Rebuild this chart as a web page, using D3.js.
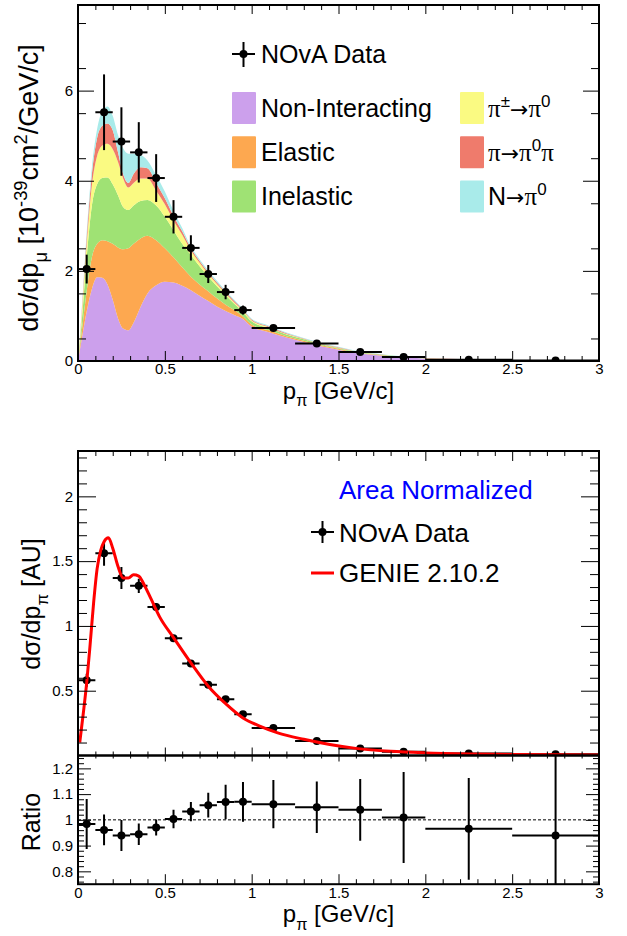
<!DOCTYPE html>
<html>
<head>
    <title>NOvA pi0 momentum</title>
    <script src="https://cdnjs.cloudflare.com/ajax/libs/d3/7.8.5/d3.min.js"></script>
    <style>
        body {
            margin: 0;
            padding: 0;
            background: white;
        }
        text {
            font-family: "Liberation Sans", Arial, Helvetica, sans-serif;
        }
    </style>
</head>
<body>
    <div id="chart"></div>

    <script>
        // Data bins (p_pi, GeV/c)
        const binLo = [0, 0.1, 0.2, 0.3, 0.4, 0.5, 0.6, 0.7, 0.8, 0.9, 1.0, 1.25, 1.5, 1.75, 2.0, 2.5];
        const binHi = [0.1, 0.2, 0.3, 0.4, 0.5, 0.6, 0.7, 0.8, 0.9, 1.0, 1.25, 1.5, 1.75, 2.0, 2.5, 3.0];

        // top panel: absolute cross section
        const xsecData = [2.04, 5.52, 4.87, 4.63, 4.06, 3.2, 2.51, 1.93, 1.53, 1.13, 0.73, 0.39, 0.2, 0.09, 0.03, 0.01];
        const xsecErr = [0.32, 0.84, 0.76, 0.67, 0.53, 0.37, 0.28, 0.2, 0.16, 0.1, 0.05, 0.03, 0.02, 0.01, 0.005, 0.003];

        // middle panel: area normalized
        const shapeData = [0.58, 1.56, 1.37, 1.31, 1.146, 0.905, 0.71, 0.546, 0.435, 0.318, 0.212, 0.112, 0.054, 0.028, 0.015, 0.01];
        const shapeErr = [0.05, 0.095, 0.085, 0.055, 0.03, 0.02, 0.015, 0.012, 0.01, 0.008, 0.006, 0.004, 0.003, 0.002, 0.002, 0.001];

        // bottom panel: data / GENIE
        const ratioData = [0.984, 0.961, 0.939, 0.944, 0.970, 1.003, 1.032, 1.057, 1.069, 1.07, 1.061, 1.049, 1.039, 1.009, 0.965, 0.939];
        const ratioErr = [0.097, 0.06, 0.06, 0.042, 0.031, 0.036, 0.037, 0.048, 0.067, 0.077, 0.094, 0.1, 0.12, 0.177, 0.198, 0.4];

        // MC stack, by final state interaction category
        const mcX = [0, 0.02, 0.05, 0.08, 0.11, 0.14, 0.17, 0.2, 0.23, 0.26, 0.29, 0.32, 0.36, 0.4, 0.45, 0.5, 0.55, 0.6, 0.65, 0.7,
                     0.75, 0.8, 0.85, 0.9, 0.95, 1.0, 1.1, 1.2, 1.3, 1.4, 1.5, 1.6, 1.7, 1.8, 1.9, 2.0, 2.25, 2.5, 2.75, 3.0];
        const nonInteracting = [0, 0.45, 1.1, 1.6, 1.86, 1.85, 1.7, 1.36, 0.95, 0.72, 0.68, 0.85, 1.2, 1.5, 1.68, 1.76, 1.74, 1.67, 1.57, 1.45,
                                1.33, 1.21, 1.11, 1.02, 0.93, 0.76, 0.64, 0.52, 0.42, 0.33, 0.25, 0.18, 0.14, 0.10, 0.075, 0.05, 0.03, 0.015, 0.01, 0.005];
        const elastic = [0, 0.15, 0.45, 0.7, 0.74, 0.83, 0.96, 1.24, 1.57, 1.76, 1.82, 1.75, 1.52, 1.28, 1.0, 0.74, 0.56, 0.41, 0.30, 0.25,
                         0.22, 0.18, 0.14, 0.11, 0.06, 0.05, 0.04, 0.03, 0.03, 0.02, 0.02, 0.01, 0.01, 0.01, 0.005, 0.005, 0.002, 0.001, 0.001, 0];
        const inelastic = [0, 0.2, 0.75, 1.15, 1.32, 1.38, 1.41, 1.32, 1.16, 0.94, 0.85, 0.85, 0.83, 0.79, 0.77, 0.7, 0.6, 0.52, 0.48, 0.4,
                           0.32, 0.27, 0.21, 0.14, 0.10, 0.07, 0.05, 0.04, 0.03, 0.02, 0.02, 0.02, 0.01, 0.01, 0.005, 0.005, 0.002, 0.001, 0, 0.001];
        const chargeExch = [0, 0.15, 0.3, 0.45, 0.63, 0.72, 0.75, 0.78, 0.74, 0.63, 0.5, 0.5, 0.5, 0.48, 0.33, 0.28, 0.22, 0.2, 0.1, 0.08,
                            0.06, 0.05, 0.04, 0.03, 0.03, 0.02, 0.015, 0.01, 0.008, 0.006, 0.005, 0.004, 0.003, 0, 0.002, 0.002, 0.001, 0.001, 0.001, 0];
        const piProd = [0, 0.05, 0.15, 0.25, 0.4, 0.44, 0.45, 0.42, 0.22, 0.10, 0.10, 0.2, 0.25, 0.23, 0.17, 0.13, 0.10, 0.08, 0.05, 0.04,
                        0.04, 0.03, 0.03, 0.03, 0.02, 0.02, 0.02, 0.015, 0.01, 0.01, 0.01, 0.005, 0.005, 0.002, 0.002, 0.002, 0.001, 0, 0, 0];
        const nucleonProd = [0, 0.05, 0.1, 0.15, 0.2, 0.33, 0.38, 0.32, 0.38, 0.57, 0.65, 0.45, 0.27, 0.17, 0.17, 0.15, 0.11, 0.07, 0.04, 0.04,
                             0.04, 0.04, 0.03, 0.03, 0.02, 0.02, 0.02, 0.02, 0.015, 0.015, 0.01, 0.01, 0.008, 0.005, 0.003, 0.002, 0.001, 0, 0, 0];

        const categories = ['Non-Interacting', 'Elastic', 'Inelastic', 'π±→π0', 'π→π0π', 'N→π0'];
        const catColors = ['#cca0ec', '#fda850', '#9fe274', '#fafa82', '#ef7b6c', '#a9ebea'];

        // GENIE 2.10.2 shape prediction
        const genieX = [0.01, 0.03, 0.05, 0.07, 0.09, 0.11, 0.13, 0.15, 0.175, 0.2, 0.23, 0.26, 0.29, 0.32, 0.35, 0.38, 0.42, 0.47,
                        0.55, 0.65, 0.75, 0.85, 0.95, 1.05, 1.15, 1.3, 1.45, 1.6, 1.8, 2.0, 2.25, 2.5, 2.75, 3.0];
        const genieY = [0.10, 0.32, 0.56, 0.86, 1.18, 1.44, 1.58, 1.65, 1.68, 1.60, 1.46, 1.37, 1.37, 1.395, 1.385, 1.32, 1.21, 1.07,
                        0.91, 0.715, 0.535, 0.40, 0.29, 0.225, 0.175, 0.125, 0.085, 0.055, 0.032, 0.02, 0.012, 0.008, 0.005, 0.004];

        const W = 627, H = 936;
        const left = 78, plotW = 521;
        const FONT = '"Liberation Sans", Arial, Helvetica, sans-serif';
        const SERIF = '"Liberation Serif", "DejaVu Serif", serif';
        const ARROW = '"DejaVu Sans", sans-serif';

        const svg = d3.select('#chart').append('svg')
            .attr('width', W)
            .attr('height', H)
            .style('background', 'white');

        const x = d3.scaleLinear().domain([0, 3]).range([0, plotW]);
        const xMajor = d3.range(0, 3.001, 0.5);
        const xMinor = d3.range(0, 3.001, 0.1).filter(v => Math.abs(v * 2 - Math.round(v * 2)) > 1e-6);
        const fmt = d3.format('~g');

        // text with sub/superscripts, parts = [[text, 'sub'|'sup'|null, fontFamily?]]
        function richText(sel, parts, fs) {
            let off = 0;
            parts.forEach(([t, kind, family]) => {
                const want = kind === 'sub' ? 0.32 * fs : kind === 'sup' ? -0.4 * fs : 0;
                const ts = sel.append('tspan')
                    .text(t)
                    .attr('font-size', kind ? fs * 0.68 : fs)
                    .attr('dy', want - off);
                if (family === ARROW) ts.attr('font-family', ARROW).attr('font-size', fs * 0.88);
                else if (family) ts.attr('font-family', SERIF);
                off = want;
            });
        }

        function drawAxes(g, y, h, o) {
            // x ticks bottom
            g.append('g').attr('transform', `translate(0,${h})`)
                .call(d3.axisBottom(x).tickValues(xMajor).tickSize(-o.xb[0]).tickFormat(o.xLabels ? fmt : ''));
            g.append('g').attr('transform', `translate(0,${h})`)
                .call(d3.axisBottom(x).tickValues(xMinor).tickSize(-o.xb[1]).tickFormat(''));
            // x ticks top
            g.append('g')
                .call(d3.axisTop(x).tickValues(xMajor).tickSize(-o.xt[0]).tickFormat(''));
            g.append('g')
                .call(d3.axisTop(x).tickValues(xMinor).tickSize(-o.xt[1]).tickFormat(''));
            // y ticks left and right
            g.append('g')
                .call(d3.axisLeft(y).tickValues(o.yMajor).tickSize(-o.yl[0]).tickPadding(5)
                    .tickFormat(d => o.yLabels.includes(d) ? fmt(d) : ''));
            g.append('g')
                .call(d3.axisLeft(y).tickValues(o.yMinor).tickSize(-o.yl[1]).tickFormat(''));
            g.append('g').attr('transform', `translate(${plotW},0)`)
                .call(d3.axisRight(y).tickValues(o.yMajor).tickSize(-o.yr[0]).tickFormat(''));
            g.append('g').attr('transform', `translate(${plotW},0)`)
                .call(d3.axisRight(y).tickValues(o.yMinor).tickSize(-o.yr[1]).tickFormat(''));

            g.selectAll('.domain').remove();
            g.selectAll('.tick line').attr('stroke', '#000').attr('stroke-width', 1);
            g.selectAll('.tick text')
                .attr('font-family', FONT)
                .attr('font-size', 15)
                .attr('fill', '#000');
            // bottom tick labels sit just under the frame
            g.selectAll('.tick text').filter(function() { return this.getAttribute('dy') === '0.71em'; })
                .attr('y', o.xLabelY);
            g.append('rect')
                .attr('width', plotW)
                .attr('height', h)
                .attr('fill', 'none')
                .attr('stroke', '#000')
                .attr('stroke-width', 2);
        }

        function drawPoints(g, y, vals, errs, h) {
            const pts = g.append('g').attr('clip-path', `url(#clip-${h})`);
            vals.forEach((v, i) => {
                const cx = x((binLo[i] + binHi[i]) / 2);
                pts.append('line')
                    .attr('x1', x(binLo[i])).attr('x2', x(binHi[i]))
                    .attr('y1', y(v)).attr('y2', y(v))
                    .attr('stroke', '#000').attr('stroke-width', 2);
                pts.append('line')
                    .attr('x1', cx).attr('x2', cx)
                    .attr('y1', y(v - errs[i])).attr('y2', y(v + errs[i]))
                    .attr('stroke', '#000').attr('stroke-width', 2);
                pts.append('circle')
                    .attr('cx', cx).attr('cy', y(v)).attr('r', 4)
                    .attr('fill', '#000');
            });
        }

        function clip(h) {
            svg.append('clipPath').attr('id', `clip-${h}`)
                .append('rect').attr('width', plotW).attr('height', h);
        }

        // ---------------- top panel ----------------
        const h1 = 356;
        clip(h1);
        const g1 = svg.append('g').attr('transform', `translate(${left},5)`);
        const y1 = d3.scaleLinear().domain([0, 7.9]).range([h1, 0]);

        const keys = ['nonInteracting', 'elastic', 'inelastic', 'chargeExch', 'piProd', 'nucleonProd'];
        const series = [nonInteracting, elastic, inelastic, chargeExch, piProd, nucleonProd];
        const rows = mcX.map((xv, i) => {
            const r = { x: xv };
            keys.forEach((k, j) => r[k] = series[j][i]);
            return r;
        });
        const stacked = d3.stack().keys(keys)(rows);
        const area = d3.area()
            .x(d => x(d.data.x))
            .y0(d => y1(d[0]))
            .y1(d => y1(d[1]))
            .curve(d3.curveMonotoneX);

        g1.append('g').attr('clip-path', `url(#clip-${h1})`)
            .selectAll('path')
            .data(stacked)
            .join('path')
            .attr('d', area)
            .attr('fill', (d, i) => catColors[i]);

        drawPoints(g1, y1, xsecData, xsecErr, h1);

        drawAxes(g1, y1, h1, {
            xLabels: true, xLabelY: 2,
            xb: [10, 5], xt: [9, 5],
            yMajor: [0, 2, 4, 6], yMinor: d3.range(0.5, 7.9, 1),
            yLabels: [0, 2, 4, 6],
            yl: [16, 8], yr: [16, 8]
        });

        // legend top
        const lg = svg.append('g');
        lg.append('line').attr('x1', 232).attr('x2', 255).attr('y1', 54).attr('y2', 54)
            .attr('stroke', '#000').attr('stroke-width', 2);
        lg.append('line').attr('x1', 243.5).attr('x2', 243.5).attr('y1', 42).attr('y2', 67)
            .attr('stroke', '#000').attr('stroke-width', 2);
        lg.append('circle').attr('cx', 243.5).attr('cy', 54).attr('r', 4).attr('fill', '#000');
        lg.append('text').attr('x', 261).attr('y', 63).attr('font-size', 25).text('NOvA Data');

        const legLabels = [
            [['Non-Interacting']],
            [['Elastic']],
            [['Inelastic']],
            [['π', null, SERIF], ['±', 'sup'], ['→', null, ARROW], ['π', null, SERIF], ['0', 'sup']],
            [['π', null, SERIF], ['→', null, ARROW], ['π', null, SERIF], ['0', 'sup'], ['π', null, SERIF]],
            [['N'], ['→', null, ARROW], ['π', null, SERIF], ['0', 'sup']]
        ];
        categories.forEach((c, i) => {
            const col = i < 3 ? 0 : 1;
            const row = i % 3;
            const bx = col === 0 ? 232 : 460;
            const by = 92 + row * 44.2;
            lg.append('rect').attr('x', bx).attr('y', by).attr('width', 24).attr('height', 32)
                .attr('rx', 1).attr('fill', catColors[i]);
            const t = lg.append('text').attr('x', bx + (col === 0 ? 29 : 28)).attr('y', by + 25);
            richText(t, legLabels[i], 25);
        });

        // axis titles top
        const t1 = svg.append('text').attr('transform', 'translate(38,188) rotate(-90)')
            .attr('text-anchor', 'middle');
        richText(t1, [['dσ/dp'], ['μ', 'sub'], ['  [10'], ['-39', 'sup'], ['cm'], ['2', 'sup'], ['/GeV/c]']], 27);

        const xt1 = svg.append('text').attr('x', 338.5).attr('y', 398.5).attr('text-anchor', 'middle');
        richText(xt1, [['p'], ['π', 'sub'], [' [GeV/c]']], 24);

        // ---------------- middle panel ----------------
        const h2 = 304.5;
        clip(h2);
        const g2 = svg.append('g').attr('transform', `translate(${left},451)`);
        const y2 = d3.scaleLinear().domain([0, 2.35]).range([h2, 0]);

        drawPoints(g2, y2, shapeData, shapeErr, h2);

        const line = d3.line()
            .x(d => x(d[0]))
            .y(d => y2(d[1]))
            .curve(d3.curveMonotoneX);
        g2.append('path')
            .datum(genieX.map((v, i) => [v, genieY[i]]))
            .attr('clip-path', `url(#clip-${h2})`)
            .attr('d', line)
            .attr('fill', 'none')
            .attr('stroke', '#ff0000')
            .attr('stroke-width', 3);

        drawAxes(g2, y2, h2, {
            xLabels: false, xLabelY: 4,
            xb: [8, 4], xt: [10, 5],
            yMajor: [0.5, 1, 1.5, 2], yMinor: d3.range(0.1, 2.35, 0.1).filter(v => Math.abs(v * 2 - Math.round(v * 2)) > 1e-6),
            yLabels: [0.5, 1, 1.5, 2],
            yl: [18, 9], yr: [18, 9]
        });

        const lg2 = svg.append('g');
        lg2.append('text').attr('x', 339).attr('y', 499).attr('font-size', 26).attr('fill', '#0000ff').text('Area Normalized');
        lg2.append('line').attr('x1', 311).attr('x2', 334).attr('y1', 532).attr('y2', 532)
            .attr('stroke', '#000').attr('stroke-width', 2);
        lg2.append('line').attr('x1', 322.5).attr('x2', 322.5).attr('y1', 521).attr('y2', 543)
            .attr('stroke', '#000').attr('stroke-width', 2);
        lg2.append('circle').attr('cx', 322.5).attr('cy', 532).attr('r', 4).attr('fill', '#000');
        lg2.append('text').attr('x', 339).attr('y', 541.5).attr('font-size', 26).text('NOvA Data');
        lg2.append('line').attr('x1', 311).attr('x2', 334).attr('y1', 573).attr('y2', 573)
            .attr('stroke', '#ff0000').attr('stroke-width', 3);
        lg2.append('text').attr('x', 339).attr('y', 582).attr('font-size', 26).text('GENIE 2.10.2');

        const t2 = svg.append('text').attr('transform', 'translate(40,604) rotate(-90)')
            .attr('text-anchor', 'middle');
        richText(t2, [['dσ/dp'], ['π', 'sub'], ['  [AU]']], 25);

        // ---------------- ratio panel ----------------
        const h3 = 128.7;
        clip(h3);
        const g3 = svg.append('g').attr('transform', `translate(${left},755.5)`);
        const y3 = d3.scaleLinear().domain([0.75, 1.25]).range([h3, 0]);

        g3.append('line')
            .attr('x1', 0).attr('x2', plotW)
            .attr('y1', y3(1)).attr('y2', y3(1))
            .attr('stroke', '#000').attr('stroke-width', 1)
            .attr('stroke-dasharray', '3,2');

        drawPoints(g3, y3, ratioData, ratioErr, h3);

        drawAxes(g3, y3, h3, {
            xLabels: true, xLabelY: 3,
            xb: [10, 5], xt: [6, 3],
            yMajor: [0.8, 0.9, 1, 1.1, 1.2],
            yMinor: d3.range(0.76, 1.25, 0.02).filter(v => Math.abs(v * 10 - Math.round(v * 10)) > 1e-6),
            yLabels: [0.8, 0.9, 1, 1.1, 1.2],
            yl: [13, 6], yr: [13, 6]
        });

        svg.append('text').attr('transform', 'translate(40,822) rotate(-90)')
            .attr('text-anchor', 'middle')
            .attr('font-size', 25)
            .text('Ratio');

        const xt3 = svg.append('text').attr('x', 338.5).attr('y', 922).attr('text-anchor', 'middle');
        richText(xt3, [['p'], ['π', 'sub'], [' [GeV/c]']], 24);
    </script>
</body>
</html>
